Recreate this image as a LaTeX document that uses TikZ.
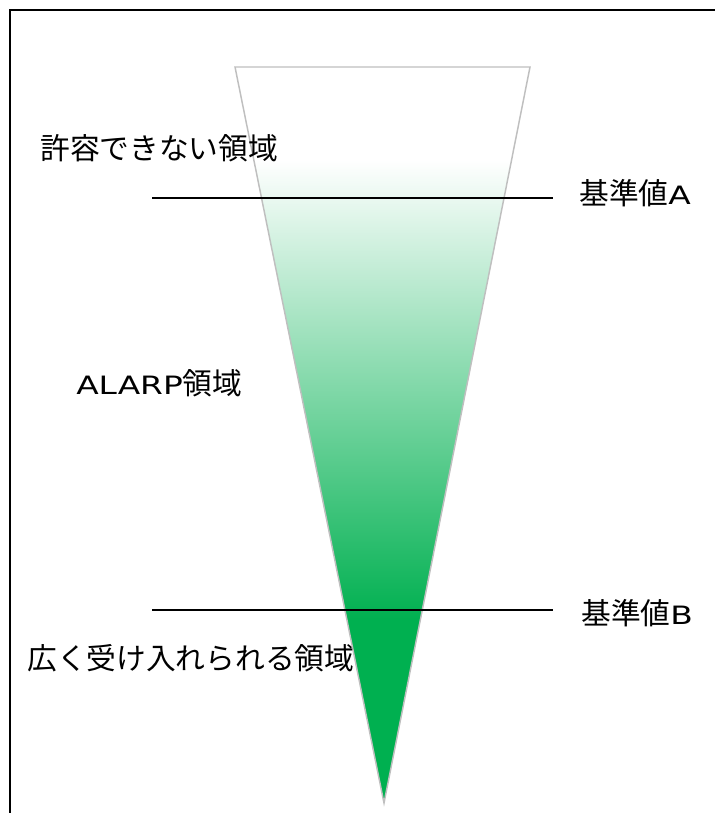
\documentclass[tikz,border=0pt]{standalone}
\usepackage{fontspec}
\setmainfont{Noto Sans CJK JP}
\newfontfamily\latinf[Scale=0.85,FakeStretch=1.3]{DejaVu Sans}
\definecolor{riskgreen}{HTML}{00B050}
\definecolor{edgegray}{HTML}{BFBFBF}
\pgfdeclareverticalshading{riskshade}{100bp}{color(0bp)=(riskgreen); color(37.4bp)=(riskgreen); color(68.7bp)=(white); color(100bp)=(white)}
\begin{document}
\begin{tikzpicture}[x=0.75pt,y=-0.75pt,
  lbl/.style={anchor=west,inner sep=0pt,font=\fontsize{22.3}{26}\selectfont,text=black},
  level/.style={draw=black,line width=1.3pt}]
\useasboundingbox (0,0) rectangle (714,813);
\draw[line width=1.3pt] (10,820) -- (10,10) -- (720,10);
\coordinate (tl) at (235,67);
\coordinate (tr) at (530,67);
\coordinate (ap) at (384,803);
\shade[shading=riskshade,draw=edgegray,line width=1.1pt,line join=miter] (tl) -- (tr) -- (ap) -- cycle;
\coordinate (aL) at (152,198);
\coordinate (aR) at (553,198);
\coordinate (bL) at (152,610);
\coordinate (bR) at (553,610);
\draw[level] (aL) -- (aR);
\draw[level] (bL) -- (bR);
\node[lbl] (unacc) at (40,148) {許容できない領域};
\node[lbl] (critA) at (579,193) {基準値{\latinf A}};
\node[lbl] (alarp) at (76,383) {{\latinf ALARP}領域};
\node[lbl] (critB) at (581,613) {基準値{\latinf B}};
\node[lbl] (broad) at (27,658) {広く受け入れられる領域};
\end{tikzpicture}
\end{document}
